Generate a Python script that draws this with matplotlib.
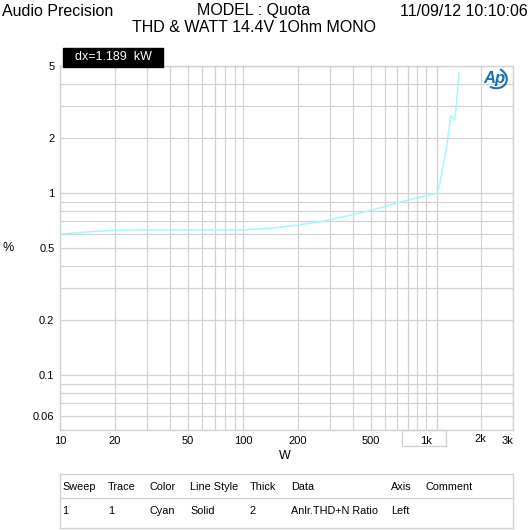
import matplotlib
matplotlib.use("Agg")
import matplotlib.pyplot as plt
import matplotlib.transforms as mtransforms
from matplotlib.patches import Rectangle, Arc
from matplotlib.lines import Line2D

plt.rcParams['font.family'] = ['Liberation Sans', 'DejaVu Sans']

# THD+N ratio (%) against output power (W)
watts = [10, 15, 20, 30, 50, 100, 150, 181, 233, 274, 350, 495, 785,
         1147, 1186, 1300, 1371, 1435, 1460, 1522]
thd = [0.596, 0.615, 0.626, 0.629, 0.629, 0.628, 0.645, 0.66, 0.684, 0.70,
       0.74, 0.802, 0.912, 1.0, 1.087, 1.80, 2.66, 2.52, 2.81, 4.60]

x_ticks = [10, 20, 50, 100, 200, 500, 1000, 2000, 3000]
x_labels = ['10', '20', '50', '100', '200', '500', '1k', '2k', '3k']
y_ticks = [0.06, 0.1, 0.2, 0.5, 1, 2, 5]
y_labels = ['0.06', '0.1', '0.2', '0.5', '1', '2', '5']

cursor_w = 1147

table_head = ['Sweep', 'Trace', 'Color', 'Line Style', 'Thick', 'Data', 'Axis', 'Comment']
table_row = ['1', '1', 'Cyan', 'Solid', '2', 'Anlr.THD+N Ratio', 'Left', '']
col_px = [62, 108, 150, 190, 250, 291, 391, 425]

W = H = 530.0


def fx(px):
    return px / W


def fy(py):
    return 1 - py / H


grid_c = '#d2d2d2'

fig = plt.figure(figsize=(5.3, 5.3), dpi=100)
ax = fig.add_axes([fx(60), fy(430), (513 - 60) / W, (430 - 66) / H])

ax.set_xscale('log')
ax.set_yscale('log')
ax.set_xlim(10, 3000)
ax.set_ylim(0.05, 5)

ax.plot(watts, thd, color='#a6f7f7', lw=1.1, zorder=3)
ax.axvline(cursor_w, color=grid_c, lw=1, zorder=1)

ax.set_xticks(x_ticks)
ax.set_xticklabels(x_labels)
ax.set_yticks(y_ticks)
ax.set_yticklabels(y_labels)
ax.grid(True, which='both', color=grid_c, lw=0.9)
ax.tick_params(which='both', length=0, labelsize=8, pad=4)
for s in ax.spines.values():
    s.set_color(grid_c)
    s.set_linewidth(1)

xl = ax.get_xticklabels()
xl[-1].set_ha('right')
xl[-1].set_x(3000)
trans2k = xl[-2].get_transform() + mtransforms.ScaledTranslation(0, 2 / 100, fig.dpi_scale_trans)
xl[-2].set_transform(trans2k)

# box round the 1k label
bt = mtransforms.blended_transform_factory(ax.transData, ax.transAxes)
ax.add_patch(Rectangle((740, -0.044), 1284 - 740, 0.044, transform=bt,
                       fill=False, edgecolor=grid_c, lw=1, clip_on=False))

fig.text(fx(8), fy(248), '%', fontsize=9, ha='center', va='center')
fig.text(fx(285), fy(456), 'W', fontsize=9, ha='center', va='center')

# header
fig.text(fx(2), fy(11), 'Audio Precision', fontsize=11.5, ha='left', va='center')
fig.text(fx(254), fy(11), 'MODEL : Quota', fontsize=11.5, ha='center', va='center')
fig.text(fx(528), fy(11), '11/09/12 10:10:06', fontsize=11.5, ha='right', va='center')
fig.text(fx(254), fy(28), 'THD & WATT 14.4V 1Ohm MONO', fontsize=11.5, ha='center', va='center')

# cursor readout
fig.patches.append(Rectangle((fx(63), fy(67)), (163 - 63) / W, (67 - 48) / H,
                             transform=fig.transFigure, color='black'))
fig.text(fx(113), fy(57.5), 'dx=1.189  kW', fontsize=9, color='white', ha='center', va='center')

# AP logo
fig.text(fx(494), fy(78), 'Ap', fontsize=12, fontweight='bold', style='italic',
         color='#1b6fb8', ha='center', va='center')
fig.patches.append(Arc((fx(495), fy(78)), 24 / W, 20 / H, angle=-20, theta1=-100, theta2=80,
                       transform=fig.transFigure, color='#1b6fb8', lw=1.5))

# legend table
for py in (474, 498, 528):
    fig.lines.append(Line2D([fx(60), fx(513)], [fy(py), fy(py)], color=grid_c, lw=1,
                            transform=fig.transFigure))
for px in (60, 513):
    fig.lines.append(Line2D([fx(px), fx(px)], [fy(474), fy(528)], color=grid_c, lw=1,
                            transform=fig.transFigure))
for i in range(len(table_head)):
    fig.text(fx(col_px[i]), fy(487), table_head[i], fontsize=7.8, ha='left', va='center')
    fig.text(fx(col_px[i]), fy(511), table_row[i], fontsize=7.8, ha='left', va='center')

fig.savefig('out.png', dpi=100)
